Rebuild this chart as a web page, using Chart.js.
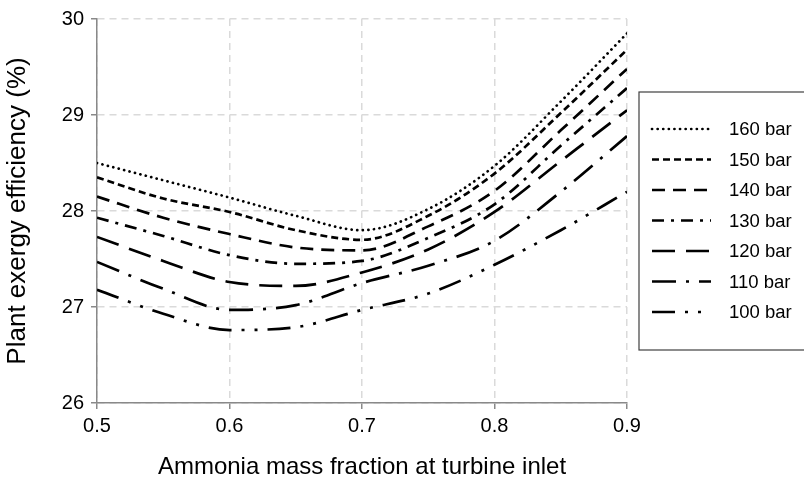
<!DOCTYPE html>
<html>
<head>
<meta charset="utf-8">
<script src="https://cdn.jsdelivr.net/npm/chart.js@4/dist/chart.umd.min.js"></script>
<style>
  html, body { margin: 0; padding: 0; background: #fff; }
  #wrap { width: 804px; height: 488px; position: relative; }
</style>
</head>
<body>
<div id="wrap"><canvas id="exergy-chart"></canvas></div>
<script>
const ctxChart = document.getElementById("exergy-chart");

// fração mássica de amônia na entrada da turbina
const fractions = [0.5, 0.55, 0.6, 0.65, 0.7, 0.75, 0.8, 0.85, 0.9];
const xTicks = [0.5, 0.6, 0.7, 0.8, 0.9];
const yTicks = [26, 27, 28, 29, 30];

const pressureLabels = ["160 bar", "150 bar", "140 bar", "130 bar", "120 bar", "110 bar", "100 bar"];

// eficiência exergética (%)
const eff160 = [28.50, 28.32, 28.14, 27.95, 27.80, 28.02, 28.47, 29.14, 29.85];
const eff150 = [28.35, 28.13, 27.99, 27.80, 27.70, 27.95, 28.39, 29.02, 29.68];
const eff140 = [28.15, 27.93, 27.76, 27.62, 27.59, 27.84, 28.21, 28.84, 29.48];
const eff130 = [27.93, 27.74, 27.54, 27.45, 27.48, 27.72, 28.07, 28.68, 29.28];
const eff120 = [27.73, 27.48, 27.26, 27.22, 27.36, 27.60, 27.99, 28.52, 29.05];
const eff110 = [27.47, 27.19, 26.97, 27.02, 27.25, 27.43, 27.69, 28.20, 28.78];
const eff100 = [27.18, 26.93, 26.76, 26.79, 26.97, 27.14, 27.44, 27.80, 28.20];

const series = [eff160, eff150, eff140, eff130, eff120, eff110, eff100];

// estilos de linha (tipo Excel)
const dashStyles = [
  { dash: [0.1, 5.5], cap: "round" },
  { dash: [7, 4], cap: "butt" },
  { dash: [13, 8], cap: "butt" },
  { dash: [12, 7, 3, 7], cap: "butt" },
  { dash: [23, 11], cap: "butt" },
  { dash: [24, 10, 3, 10], cap: "butt" },
  { dash: [23, 10, 3, 10, 3, 10], cap: "butt" },
];

Chart.defaults.font.family = "'Liberation Sans', Arial, sans-serif";
Chart.defaults.color = "#000";

const datasets = series.map((values, i) => ({
  label: pressureLabels[i],
  data: values.map((v, j) => ({ x: fractions[j], y: v })),
  borderColor: "#000",
  borderWidth: 2.7,
  borderDash: dashStyles[i].dash,
  borderCapStyle: dashStyles[i].cap,
  pointRadius: 0,
  cubicInterpolationMode: "monotone",
  fill: false,
}));

// legenda com moldura, desenhada à direita
const legendBox = {
  id: "legendBox",
  afterDraw(chart) {
    const ctx = chart.ctx;
    const left = chart.chartArea.right + 12;
    const top = 92;
    const bottom = 350;
    ctx.save();
    ctx.strokeStyle = "#404040";
    ctx.lineWidth = 1.2;
    ctx.strokeRect(left, top, chart.width - left + 10, bottom - top);
    ctx.font = "18.5px 'Liberation Sans', Arial, sans-serif";
    ctx.fillStyle = "#000";
    ctx.textBaseline = "middle";
    chart.data.datasets.forEach((ds, i) => {
      const y = 129 + i * 30.5;
      ctx.beginPath();
      ctx.strokeStyle = "#000";
      ctx.lineWidth = ds.borderWidth;
      ctx.lineCap = ds.borderCapStyle;
      ctx.setLineDash(ds.borderDash);
      ctx.moveTo(left + 13, y);
      ctx.lineTo(left + 72, y);
      ctx.stroke();
      ctx.setLineDash([]);
      ctx.fillText(ds.label, left + 90, y + 1);
    });
    ctx.restore();
  },
};

new Chart(ctxChart, {
  type: "line",
  data: { datasets: datasets },
  plugins: [legendBox],
  options: {
    responsive: true,
    maintainAspectRatio: false,
    animation: false,
    layout: {
      padding: { top: 15, right: 177, bottom: 0, left: 0 },
    },
    plugins: {
      legend: { display: false },
      tooltip: { enabled: false },
    },
    scales: {
      x: {
        type: "linear",
        min: 0.5,
        max: 0.9,
        afterBuildTicks: (axis) => {
          axis.ticks = xTicks.map((v) => ({ value: v }));
        },
        afterFit: (axis) => {
          axis.height = 85;
        },
        ticks: {
          font: { size: 20 },
          padding: 5,
          callback: (value) => value.toFixed(1),
        },
        grid: {
          color: "#dadada",
          lineWidth: 1.5,
          tickColor: "#898989",
          tickLength: 6,
          tickWidth: 1.5,
        },
        border: { color: "#898989", width: 1.5, dash: [7, 5] },
        title: {
          display: true,
          text: "Ammonia mass fraction at turbine inlet",
          font: { size: 24 },
          padding: { top: 4, bottom: 6 },
        },
      },
      y: {
        min: 26,
        max: 30,
        afterBuildTicks: (axis) => {
          axis.ticks = yTicks.map((v) => ({ value: v }));
        },
        afterFit: (axis) => {
          axis.width = 97;
        },
        ticks: {
          font: { size: 20 },
          padding: 7,
        },
        grid: {
          color: "#dadada",
          lineWidth: 1.5,
          tickColor: "#898989",
          tickLength: 6,
          tickWidth: 1.5,
        },
        border: { color: "#898989", width: 1.5, dash: [7, 5] },
        title: {
          display: true,
          text: "Plant exergy efficiency (%)",
          font: { size: 26 },
          padding: { top: 2, bottom: 4 },
        },
      },
    },
  },
});
</script>
</body>
</html>
